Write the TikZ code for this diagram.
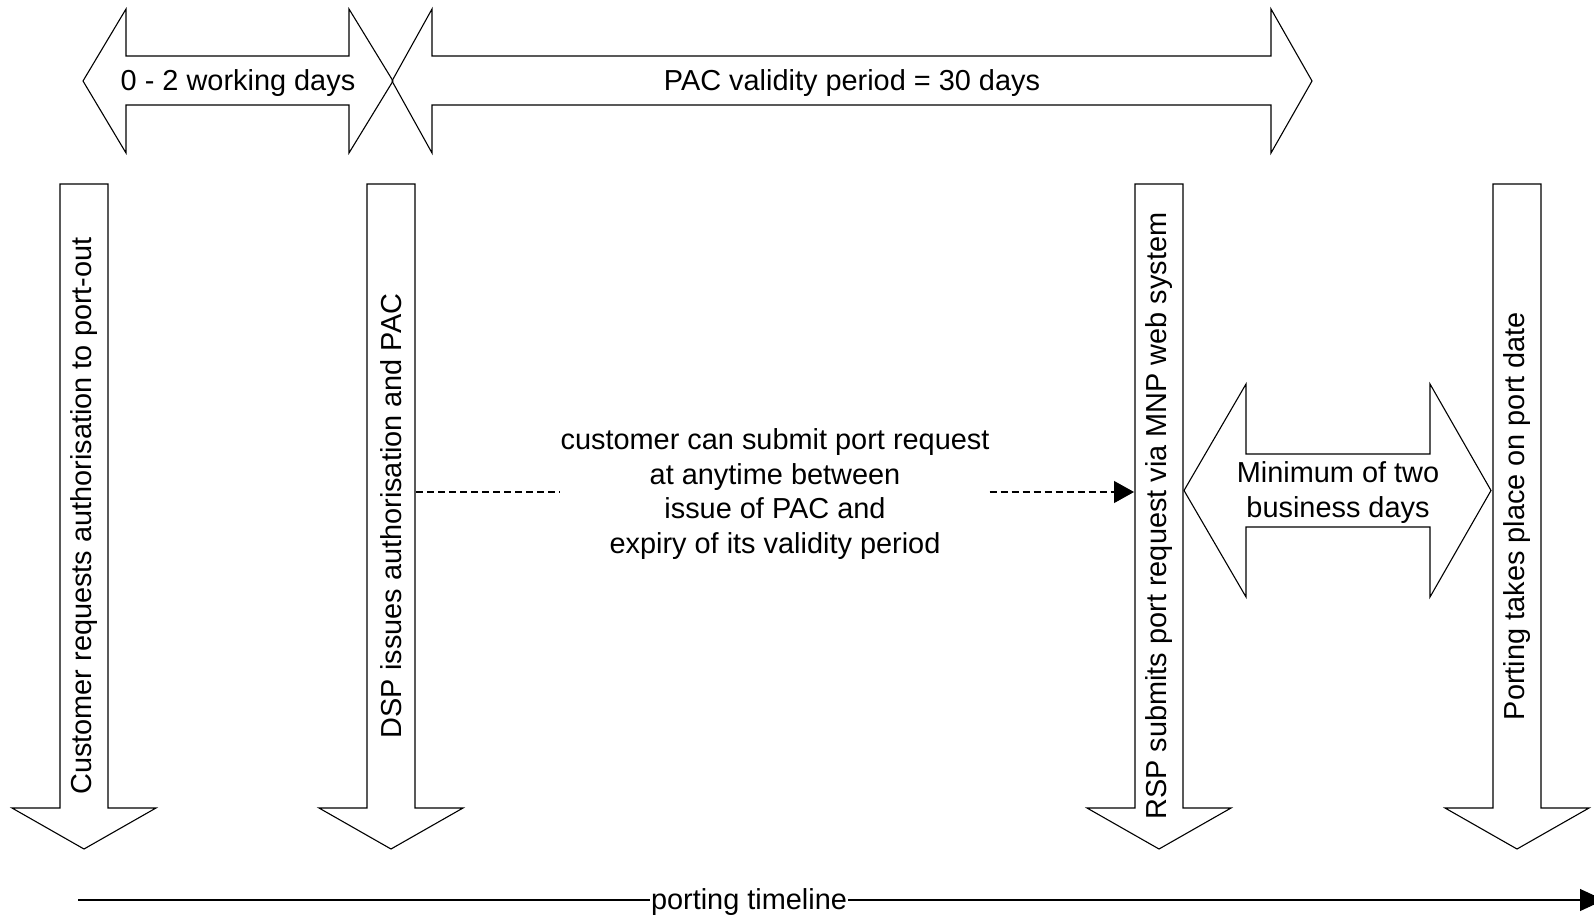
\documentclass[tikz,border=0pt]{standalone}
\usepackage{fontspec}
\setmainfont{Liberation Sans}
\usetikzlibrary{arrows.meta,calc}
\tikzset{
  blockarrow/.style={draw=black, line width=1.1pt, line join=miter},
  lbl/.style={font=\fontsize{28.9}{34.5}\selectfont, inner sep=0pt, align=center},
  vlbl/.style={lbl, rotate=90},
  conn/.style={draw=black, line width=1.1pt},
}
\newcommand\downblock[1]{%
  \draw[blockarrow] ({#1-24},184) -- ({#1+24},184) -- ({#1+24},808) -- ({#1+72},808)
    -- (#1,849) -- ({#1-72},808) -- ({#1-24},808) -- cycle;}
\begin{document}
\begin{tikzpicture}[x=1pt,y=-1pt]
\useasboundingbox (0,0) rectangle (1594,917);

% top double arrows
\draw[blockarrow] (83,81) -- (126,9) -- (126,56) -- (349,56) -- (349,9) -- (393,81)
  -- (349,153) -- (349,105) -- (126,105) -- (126,153) -- cycle;
\node[lbl] (wd) at (238,83) {0 - 2 working days};
\draw[blockarrow] (392,81) -- (432,9) -- (432,56) -- (1271,56) -- (1271,9) -- (1312,81)
  -- (1271,153) -- (1271,105) -- (432,105) -- (432,153) -- cycle;
\node[lbl] (pac) at (852,83) {PAC validity period = 30 days};

% vertical arrows
\downblock{84}
\node[vlbl] (cust) at (84,516) {Customer requests authorisation to port-out};
\downblock{391}
\node[vlbl] (dsp) at (391,516) {DSP issues authorisation and PAC};
\downblock{1159}
\node[vlbl] (rsp) at (1159,516) {RSP submits port request via MNP web system};
\downblock{1517}
\node[vlbl] (port) at (1517,516) {Porting takes place on port date};

% minimum two days arrow
\draw[blockarrow] (1184,490.5) -- (1246,384) -- (1246,454) -- (1430,454) -- (1430,384)
  -- (1491,490.5) -- (1430,597) -- (1430,527) -- (1246,527) -- (1246,597) -- cycle;
\node[lbl] (min) at (1338,492.5) {Minimum of two\\business days};

% dashed connector
\coordinate (dspR) at (416,492);
\coordinate (rspL) at (1134,492);
\node[lbl] (note) at (775,494) {customer can submit port request\\at anytime between\\issue of PAC and\\expiry of its validity period};
\draw[conn, dash pattern=on 7pt off 4pt] (dspR) -- (dspR -| note.west);
\draw[conn, dash pattern=on 7pt off 4pt, -{Triangle[length=20pt,width=22pt]}] (rspL -| note.east) -- (rspL);

% timeline
\coordinate (tlS) at (78,900);
\coordinate (tlE) at (1604,900);
\node[lbl, inner xsep=1pt] (tl) at (749,902) {porting timeline};
\draw[conn] (tlS) -- (tlS -| tl.west);
\draw[conn, -{Triangle[length=24pt,width=22pt]}] (tlS -| tl.east) -- (tlE);
\end{tikzpicture}
\end{document}
